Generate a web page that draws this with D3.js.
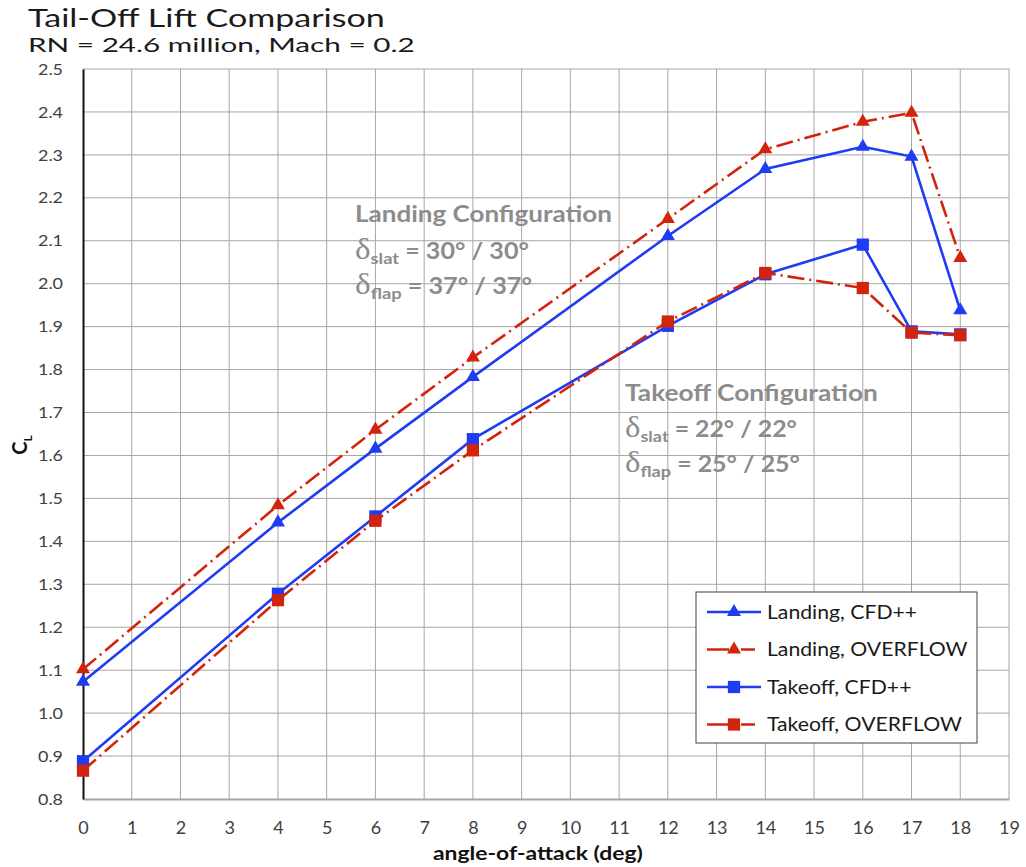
<!DOCTYPE html>
<html>
<head>
<meta charset="utf-8">
<script src="https://cdn.jsdelivr.net/npm/d3@7"></script>
<style>
  body { margin: 0; background: #fff; }
  text { font-family: Lato, "Open Sans", sans-serif; }
</style>
</head>
<body>
<div id="vis"></div>
<script>
// data
var alpha = [0, 4, 6, 8, 12, 14, 16, 17, 18];
var landingCFD = [1.073, 1.444, 1.616, 1.783, 2.111, 2.267, 2.319, 2.296, 1.938];
var landingOVF = [1.102, 1.484, 1.660, 1.828, 2.151, 2.313, 2.377, 2.398, 2.060];
var takeoffCFD = [0.888, 1.278, 1.458, 1.638, 1.902, 2.022, 2.091, 1.889, 1.882];
var takeoffOVF = [0.866, 1.263, 1.448, 1.612, 1.912, 2.025, 1.990, 1.886, 1.880];
var seriesNames = ['Landing, CFD++', 'Landing, OVERFLOW', 'Takeoff, CFD++', 'Takeoff, OVERFLOW'];
var xTicks = d3.range(0, 20);
var yTicks = d3.range(0.8, 2.5001, 0.1);

var width = 1026, height = 867;
var margin = { top: 69, left: 83, bottom: 68, right: 17 };

var blue = '#1f3cf2', red = '#d2230c';
var series = [
  { name: seriesNames[0], values: landingCFD, color: blue, dash: null, marker: 'triangle' },
  { name: seriesNames[1], values: landingOVF, color: red, dash: '17,5,2,5', marker: 'triangle' },
  { name: seriesNames[2], values: takeoffCFD, color: blue, dash: null, marker: 'square' },
  { name: seriesNames[3], values: takeoffOVF, color: red, dash: '17,5,2,5', marker: 'square' }
];

var svg = d3.select('#vis').append('svg')
  .attr('width', width)
  .attr('height', height);

var x = d3.scaleLinear().domain([0, 19]).range([margin.left, width - margin.right]);
var y = d3.scaleLinear().domain([0.8, 2.5]).range([height - margin.bottom, margin.top]);

// stretch a text horizontally so it spans x0..x1 (the reference font runs wide)
function fitWidth(sel, x0, x1) {
  var w = sel.node().getBBox().width;
  var s = (x1 - x0) / w;
  sel.attr('transform', 'translate(' + x0 + ',0) scale(' + s + ',1) translate(' + (-x0) + ',0)');
}

// gridlines
svg.append('g').selectAll('line.vg').data(xTicks.slice(1)).enter()
  .append('line')
  .attr('x1', function (d) { return x(d); }).attr('x2', function (d) { return x(d); })
  .attr('y1', y(0.8)).attr('y2', y(2.5))
  .attr('stroke', '#a6a6a6').attr('stroke-width', 1);
svg.append('g').selectAll('line.hg').data(yTicks.slice(1)).enter()
  .append('line')
  .attr('x1', x(0)).attr('x2', x(19))
  .attr('y1', function (d) { return y(d); }).attr('y2', function (d) { return y(d); })
  .attr('stroke', '#a6a6a6').attr('stroke-width', 1);

// x axis
var xAxis = d3.axisBottom(x).tickValues(xTicks).tickSize(0).tickPadding(22)
  .tickFormat(d3.format('d'));
var gx = svg.append('g').attr('transform', 'translate(0,' + y(0.8) + ')').call(xAxis);
gx.select('.domain').attr('stroke', '#a6a6a6').attr('stroke-width', 2);
gx.selectAll('text').attr('fill', '#404040').style('font-size', '18px');

// y axis
var yAxis = d3.axisLeft(y).tickValues(yTicks).tickSize(0).tickPadding(20)
  .tickFormat(d3.format('.1f'));
var gy = svg.append('g').attr('transform', 'translate(' + x(0) + ',0)').call(yAxis);
gy.select('.domain').attr('stroke', '#111').attr('stroke-width', 2);
gy.selectAll('text').attr('fill', '#404040').style('font-size', '16px');
gy.selectAll('.tick text').each(function () {
  d3.select(this).call(function (s) {
    var bx = s.node().getBBox();
    var ax = bx.x + bx.width;
    s.attr('transform', 'translate(' + ax + ',0) scale(1.12,1) translate(' + (-ax) + ',0)');
  });
});

// titles
var t = svg.append('text').attr('x', 28).attr('y', 27)
  .style('font-size', '25px').attr('fill', '#1a1a1a')
  .text('Tail-Off Lift Comparison');
fitWidth(t, 28, 385);
t = svg.append('text').attr('x', 28).attr('y', 52)
  .style('font-size', '20px').attr('fill', '#1a1a1a')
  .text('RN = 24.6 million, Mach = 0.2');
fitWidth(t, 28, 415);

t = svg.append('text')
  .attr('x', 433).attr('y', 860)
  .style('font-size', '19px').style('font-weight', 'bold').attr('fill', '#111')
  .text('angle-of-attack (deg)');
fitWidth(t, 433, 643);

var yl = svg.append('text')
  .attr('transform', 'translate(27,' + 445 + ') rotate(-90)')
  .attr('text-anchor', 'middle')
  .style('font-size', '20px').style('font-weight', 'bold').attr('fill', '#111');
yl.append('tspan').text('C');
yl.append('tspan').attr('dy', 5).style('font-size', '12px').text('L');

// annotations
function deltaLine(g, x0, y0, sub, val, x1) {
  var tx = g.append('text').attr('x', x0).attr('y', y0);
  tx.append('tspan').style('font-family', '"Liberation Serif", serif')
    .style('font-weight', 'normal').style('font-size', '29px').text('δ');
  tx.append('tspan').attr('dy', 5).style('font-size', '16px').text(sub);
  tx.append('tspan').attr('dy', -5).text(' = ' + val);
  fitWidth(tx, x0, x1);
}
function annotate(x0, ys, title, slat, flap, ends) {
  var g = svg.append('g').attr('fill', '#8c8c8c')
    .style('font-weight', 'bold').style('font-size', '22px');
  var tt = g.append('text').attr('x', x0).attr('y', ys[0]).text(title);
  fitWidth(tt, x0, ends[0]);
  deltaLine(g, x0, ys[1], 'slat', slat, ends[1]);
  deltaLine(g, x0, ys[2], 'flap', flap, ends[2]);
}
annotate(355, [222, 259, 294], 'Landing Configuration', '30° / 30°', '37° / 37°', [612, 529, 532]);
annotate(625, [401, 437, 472], 'Takeoff Configuration', '22° / 22°', '25° / 25°', [878, 797, 800]);

// lines and markers
var line = d3.line()
  .x(function (d, i) { return x(alpha[i]); })
  .y(function (d) { return y(d); });

var triangle = d3.symbol().type(d3.symbolTriangle).size(85);
var square = d3.symbol().type(d3.symbolSquare).size(150);

series.forEach(function (s) {
  var g = svg.append('g');
  g.append('path')
    .datum(s.values)
    .attr('d', line)
    .attr('fill', 'none')
    .attr('stroke', s.color)
    .attr('stroke-width', 2.6)
    .attr('stroke-dasharray', s.dash);
  g.selectAll('path.m').data(s.values).enter()
    .append('path')
    .attr('class', 'm')
    .attr('d', s.marker === 'triangle' ? triangle : square)
    .attr('transform', function (d, i) { return 'translate(' + x(alpha[i]) + ',' + y(d) + ')'; })
    .attr('fill', s.color);
});

// legend
var lg = svg.append('g').attr('transform', 'translate(696,592)');
lg.append('rect').attr('width', 281).attr('height', 151)
  .attr('fill', '#fff').attr('stroke', '#404040').attr('stroke-width', 1);
var legendTexts = [];
series.forEach(function (s, i) {
  var yy = 20 + i * 37.5;
  lg.append('line').attr('x1', 11).attr('x2', 65).attr('y1', yy).attr('y2', yy)
    .attr('stroke', s.color).attr('stroke-width', 2.6)
    .attr('stroke-dasharray', s.dash ? '22,5,2,5,14' : null);
  lg.append('path')
    .attr('d', s.marker === 'triangle' ? triangle : square)
    .attr('transform', 'translate(38,' + yy + ')')
    .attr('fill', s.color);
  legendTexts.push(lg.append('text').attr('x', 71).attr('y', yy + 7)
    .style('font-size', '19px').attr('fill', '#1a1a1a')
    .text(s.name));
});
var ls = 201 / legendTexts[1].node().getBBox().width;
legendTexts.forEach(function (tx) {
  tx.attr('transform', 'translate(71,0) scale(' + ls + ',1) translate(-71,0)');
});
</script>
</body>
</html>
